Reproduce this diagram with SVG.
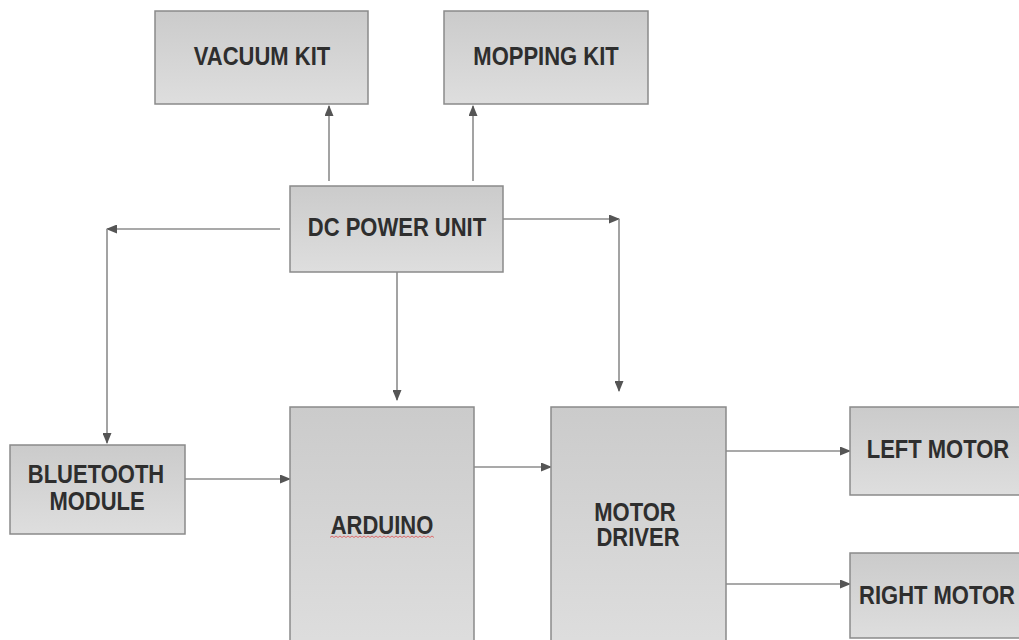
<svg xmlns="http://www.w3.org/2000/svg" width="1019" height="640" viewBox="0 0 1019 640">
<style>
.box{fill:url(#g);stroke:#8a8a8a;stroke-width:1.5}
.lbl{font-family:"Liberation Sans",Arial,sans-serif;font-weight:bold;font-size:22px;fill:#2e2e2e;text-anchor:middle}
.ln{fill:none;stroke:#8c8c8c;stroke-width:1.6}
.arr{marker-end:url(#ah)}
</style>
<defs>
<linearGradient id="g" x1="0" y1="0" x2="0" y2="1">
<stop offset="0" stop-color="#cbcbcb"/>
<stop offset="1" stop-color="#dedede"/>
</linearGradient>
<marker id="ah" markerUnits="userSpaceOnUse" markerWidth="11" markerHeight="9" refX="10" refY="4.5" orient="auto">
<path d="M0,0 L11,4.5 L0,9 z" fill="#555"/>
</marker>
</defs>
<rect width="1019" height="640" fill="#fff"/>
<g id="connectors">
<line class="ln arr" x1="329" y1="181" x2="329" y2="106"/>
<line class="ln arr" x1="473" y1="181" x2="473" y2="106"/>
<line class="ln arr" x1="280" y1="229" x2="107" y2="229"/>
<line class="ln arr" x1="107" y1="229" x2="107" y2="443"/>
<line class="ln arr" x1="503" y1="219" x2="619" y2="219"/>
<line class="ln arr" x1="619" y1="219" x2="619" y2="391"/>
<line class="ln arr" x1="397" y1="272" x2="397" y2="400"/>
<line class="ln arr" x1="185" y1="479" x2="290" y2="479"/>
<line class="ln arr" x1="474" y1="467" x2="551" y2="467"/>
<line class="ln arr" x1="726" y1="451" x2="850" y2="451"/>
<line class="ln arr" x1="726" y1="584" x2="850" y2="584"/>
</g>
<g id="vacuum-kit">
<rect class="box" x="155" y="11" width="213" height="93"/>
<text class="lbl" transform="translate(262,65) scale(1,1.15)">VACUUM KIT</text>
</g>
<g id="mopping-kit">
<rect class="box" x="444" y="11" width="204" height="93"/>
<text class="lbl" transform="translate(546,65) scale(1,1.15)">MOPPING KIT</text>
</g>
<g id="dc-power-unit">
<rect class="box" x="290" y="186" width="213" height="86"/>
<text class="lbl" transform="translate(397,236) scale(1,1.15)">DC POWER UNIT</text>
</g>
<g id="bluetooth-module">
<rect class="box" x="10" y="445" width="175" height="89"/>
<text class="lbl" transform="translate(96,483) scale(1,1.15)">BLUETOOTH</text>
<text class="lbl" transform="translate(97,510) scale(1,1.15)">MODULE</text>
</g>
<g id="arduino">
<rect class="box" x="290" y="407" width="184" height="245"/>
<text class="lbl" transform="translate(382,534) scale(1,1.15)">ARDUINO</text>
<path d="M330,537.5 l2,-1.5 l2,1.5 l2,-1.5 l2,1.5 l2,-1.5 l2,1.5 l2,-1.5 l2,1.5 l2,-1.5 l2,1.5 l2,-1.5 l2,1.5 l2,-1.5 l2,1.5 l2,-1.5 l2,1.5 l2,-1.5 l2,1.5 l2,-1.5 l2,1.5 l2,-1.5 l2,1.5 l2,-1.5 l2,1.5 l2,-1.5 l2,1.5 l2,-1.5 l2,1.5 l2,-1.5 l2,1.5 l2,-1.5 l2,1.5 l2,-1.5 l2,1.5 l2,-1.5 l2,1.5 l2,-1.5 l2,1.5 l2,-1.5 l2,1.5 l2,-1.5 l2,1.5 l2,-1.5 l2,1.5 l2,-1.5 l2,1.5 l2,-1.5 l2,1.5 l2,-1.5 l2,1.5 l2,-1.5 l2,1.5" fill="none" stroke="#e05050" stroke-width="0.8"/>
</g>
<g id="motor-driver">
<rect class="box" x="551" y="407" width="175" height="245"/>
<text class="lbl" transform="translate(635,521) scale(1,1.15)">MOTOR</text>
<text class="lbl" transform="translate(638,546) scale(1,1.15)">DRIVER</text>
</g>
<g id="left-motor">
<rect class="box" x="850" y="407" width="180" height="88"/>
<text class="lbl" transform="translate(938,458) scale(1,1.15)">LEFT MOTOR</text>
</g>
<g id="right-motor">
<rect class="box" x="850" y="553" width="180" height="85"/>
<text class="lbl" transform="translate(937,604) scale(1,1.15)">RIGHT MOTOR</text>
</g>
</svg>
